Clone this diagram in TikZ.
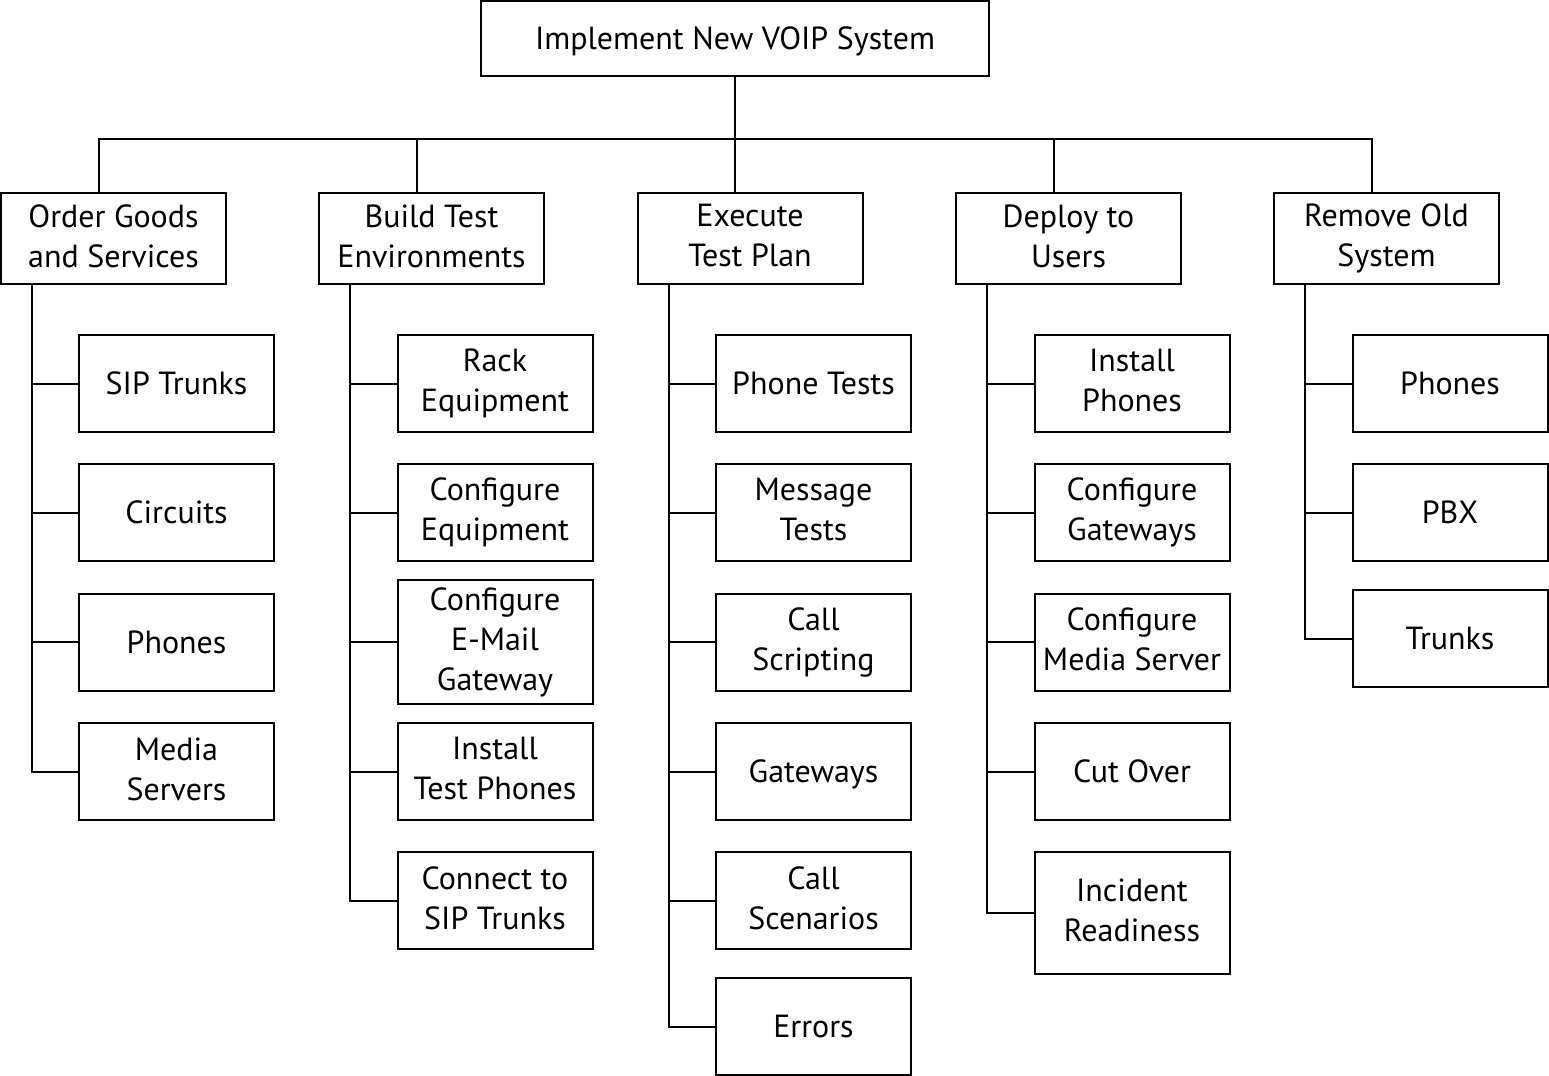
\documentclass[tikz,border=0pt]{standalone}
\usepackage{fontspec}
\setmainfont{PT Sans}
\newcommand{\mystrut}{\vrule height 14pt depth 2.8pt width 0pt}
\begin{document}
\begin{tikzpicture}[x=0.5pt,y=-0.5pt,
  box/.style={draw, line width=1pt, inner sep=0pt, align=center, font=\fontsize{16}{20}\selectfont,
    execute at begin node=\mystrut, execute at end node=\mystrut},
  topbox/.style={box, minimum width=254pt, minimum height=37.5pt},
  lone/.style={box, minimum width=112.5pt, minimum height=45.5pt},
  kid/.style={box, minimum width=97.5pt, minimum height=48.5pt},
  conn/.style={line width=1pt}]
\useasboundingbox (0,0) rectangle (1549,1076);
\node[topbox] (top) at (735,38.5) {Implement New VOIP System};
% level 1
\node[lone] (a) at (113.5,238.5) {Order Goods\\and Services};
\node[lone] (b) at (431.5,238.5) {Build Test\\Environments};
\node[lone] (c) at (750,238.5) {Execute\\Test Plan};
\node[lone] (d) at (1068.5,238.5) {Deploy to\\Users};
\node[lone] (e) at (1386.5,238.5) {Remove Old\\System};
% group a
\node[kid] (a1) at (176.5,383.5) {SIP Trunks};
\node[kid] (a2) at (176.5,512.5) {Circuits};
\node[kid] (a3) at (176.5,642) {Phones};
\node[kid] (a4) at (176.5,771.5) {Media\\Servers};
% group b
\node[kid] (b1) at (495,383.5) {Rack\\Equipment};
\node[kid] (b2) at (495,512.5) {Configure\\Equipment};
\node[kid, minimum height=62pt] (b3) at (495,642) {Configure\\E-Mail\\Gateway};
\node[kid] (b4) at (495,771.5) {Install\\Test Phones};
\node[kid] (b5) at (495,900.5) {Connect to\\SIP Trunks};
% group c
\node[kid] (c1) at (813.5,383.5) {Phone Tests};
\node[kid] (c2) at (813.5,512.5) {Message\\Tests};
\node[kid] (c3) at (813.5,642) {Call\\Scripting};
\node[kid] (c4) at (813.5,771.5) {Gateways};
\node[kid] (c5) at (813.5,900.5) {Call\\Scenarios};
\node[kid] (c6) at (813.5,1026.5) {Errors};
% group d
\node[kid] (d1) at (1132,383.5) {Install\\Phones};
\node[kid] (d2) at (1132,512.5) {Configure\\Gateways};
\node[kid] (d3) at (1132,642) {Configure\\Media Server};
\node[kid] (d4) at (1132,771.5) {Cut Over};
\node[kid, minimum height=61pt] (d5) at (1132,913) {Incident\\Readiness};
% group e
\node[kid] (e1) at (1450,383.5) {Phones};
\node[kid] (e2) at (1450,512.5) {PBX};
\node[kid] (e3) at (1450,638.5) {Trunks};
% connectors
\coordinate (bar) at (735,139);
\draw[conn] (top.south) -- (bar);
\foreach \n in {a,b,c,d,e}
  \draw[conn] ([xshift=-7.5pt]\n.north) |- (bar);
\foreach \n/\m in {a/a1,a/a2,a/a3,a/a4,b/b1,b/b2,b/b3,b/b4,b/b5,c/c1,c/c2,c/c3,c/c4,c/c5,c/c6,d/d1,d/d2,d/d3,d/d4,d/d5,e/e1,e/e2,e/e3}
  \draw[conn] ([xshift=-40.75pt]\n.south) |- (\m.west);
\end{tikzpicture}
\end{document}
